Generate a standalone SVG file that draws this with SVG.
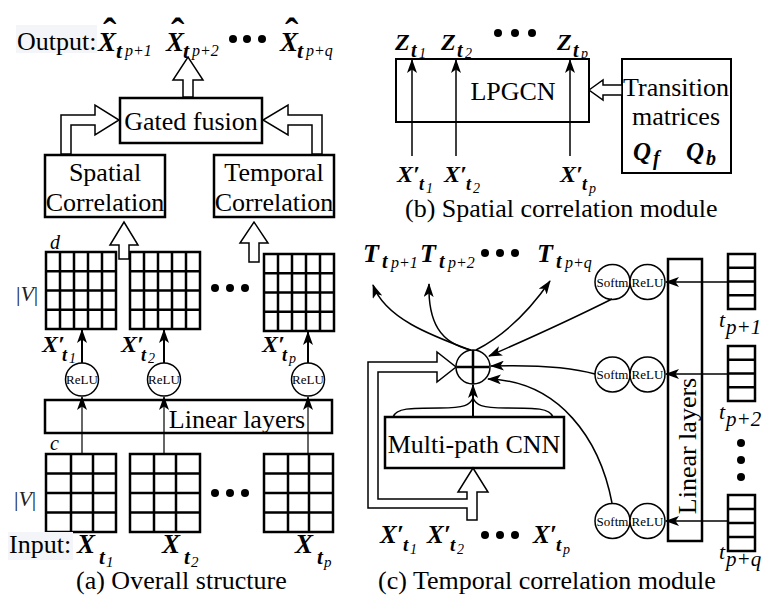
<svg xmlns="http://www.w3.org/2000/svg" width="776" height="612" viewBox="0 0 776 612" font-family="'Liberation Serif', 'Times New Roman', serif">
<style>
text{font-family:'Liberation Serif','Times New Roman',serif;fill:#000}
.t{font-size:26px}
.m{font-weight:bold;font-style:italic}
.s{font-weight:bold;font-style:italic}
.ss{font-style:italic;font-weight:normal}
.hat{font-weight:bold;font-style:normal;font-size:40px}
.sm{font-size:13px}
.it{font-style:italic;font-size:20px}
.box{fill:#fff;stroke:#000;stroke-width:2.5}
.grid{fill:none;stroke:#000;stroke-width:2.5}
.hol{fill:#fff;stroke:#000;stroke-width:1.5;stroke-linejoin:miter}
.ln{fill:none;stroke:#000;stroke-width:1.5}
.circ{fill:#fff;stroke:#000;stroke-width:1.5}
.dot{fill:#000}
.mid{text-anchor:middle}
</style>
<defs>
<marker id="ah" viewBox="0 0 14 10" refX="13" refY="5" markerWidth="14" markerHeight="10" markerUnits="userSpaceOnUse" orient="auto">
<path d="M0,0 L14,5 L0,10 L3.5,5 z" fill="#000"/>
</marker>
</defs>
<rect width="776" height="612" fill="#fff"/>

<!-- ===== (a) Overall structure ===== -->
<g id="a-output">
<rect x="16" y="25" width="81" height="28" fill="#f3f5f8"/>
<text class="t" x="17" y="50">Output:</text>
<text><tspan class="m" x="98" y="51" font-size="27">X</tspan><tspan class="hat" x="103" y="46">ˆ</tspan><tspan class="s" x="116" y="58" font-size="22">t</tspan><tspan class="ss" x="125" y="56" font-size="16">p+1</tspan></text>
<text><tspan class="m" x="166" y="51" font-size="27">X</tspan><tspan class="hat" x="171" y="46">ˆ</tspan><tspan class="s" x="183" y="58" font-size="22">t</tspan><tspan class="ss" x="192" y="56" font-size="16">p+2</tspan></text>
<circle class="dot" cx="233" cy="39" r="4"/><circle class="dot" cx="247" cy="39" r="4"/><circle class="dot" cx="262" cy="39" r="4"/>
<text><tspan class="m" x="280" y="51" font-size="27">X</tspan><tspan class="hat" x="285" y="46">ˆ</tspan><tspan class="s" x="297" y="58" font-size="22">t</tspan><tspan class="ss" x="306" y="56" font-size="16">p+q</tspan></text>
</g>

<g id="a-gated">
<rect class="box" x="120" y="98" width="142" height="45"/>
<text class="t mid" x="191" y="130">Gated fusion</text>
</g>
<g id="a-spatial">
<rect class="box" x="45" y="155" width="120" height="62"/>
<text class="t mid" x="105" y="181">Spatial</text>
<text class="t mid" x="105" y="211">Correlation</text>
</g>
<g id="a-temporal">
<rect class="box" x="214" y="155" width="120" height="62"/>
<text class="t mid" x="274" y="181">Temporal</text>
<text class="t mid" x="274" y="211">Correlation</text>
</g>

<g id="a-grids-top">
<text class="it" x="50" y="249">d</text>
<text x="16" y="301" style="font-size:22px;fill:#222">|<tspan font-style="italic">V</tspan>|</text>
<g class="grid">
<rect x="46" y="252" width="70" height="77"/>
<path d="M60 252V329M74 252V329M88 252V329M102 252V329M46 271.25H116M46 290.5H116M46 309.75H116"/>
<rect x="130" y="252" width="70" height="77"/>
<path d="M144 252V329M158 252V329M172 252V329M186 252V329M130 271.25H200M130 290.5H200M130 309.75H200"/>
<rect x="264" y="254" width="70" height="77"/>
<path d="M278 254V331M292 254V331M306 254V331M320 254V331M264 273.25H334M264 292.5H334M264 311.75H334"/>
</g>
<circle class="dot" cx="215" cy="288" r="4"/><circle class="dot" cx="230" cy="288" r="4"/><circle class="dot" cx="245" cy="288" r="4"/>
</g>

<g id="a-xprime">
<text><tspan class="m" x="42" y="352" font-size="24">X′</tspan><tspan class="s" x="62" y="361" font-size="18">t</tspan><tspan class="ss" x="69" y="363" font-size="14">1</tspan></text>
<text><tspan class="m" x="121" y="352" font-size="24">X′</tspan><tspan class="s" x="141" y="361" font-size="18">t</tspan><tspan class="ss" x="148" y="363" font-size="14">2</tspan></text>
<text><tspan class="m" x="262" y="352" font-size="24">X′</tspan><tspan class="s" x="282" y="361" font-size="18">t</tspan><tspan class="ss" x="289" y="363" font-size="14">p</tspan></text>
</g>

<g id="a-linear">
<rect class="box" x="45" y="400" width="287" height="33"/>
<text class="t mid" x="237" y="428">Linear layers</text>
</g>

<g id="a-relu">
<circle class="circ" cx="82" cy="379.5" r="16.5"/><text class="sm mid" x="82" y="384">ReLU</text>
<circle class="circ" cx="164" cy="379.5" r="16.5"/><text class="sm mid" x="164" y="384">ReLU</text>
<circle class="circ" cx="308" cy="379.5" r="16.5"/><text class="sm mid" x="308" y="384">ReLU</text>
</g>

<g id="a-grids-bottom">
<text class="it" x="50" y="450">c</text>
<text x="14" y="506" style="font-size:22px;fill:#222">|<tspan font-style="italic">V</tspan>|</text>
<g class="grid">
<rect x="46" y="454" width="70" height="78"/>
<path d="M71 454V532M93 454V532M46 473.5H116M46 493H116M46 512.5H116"/>
<rect x="130" y="454" width="70" height="78"/>
<path d="M154 454V532M176 454V532M130 473.5H200M130 493H200M130 512.5H200"/>
<rect x="264" y="454" width="69" height="78"/>
<path d="M288 454V532M309 454V532M264 473.5H333M264 493H333M264 512.5H333"/>
</g>
<circle class="dot" cx="215" cy="493" r="4"/><circle class="dot" cx="230" cy="493" r="4"/><circle class="dot" cx="245" cy="493" r="4"/>
</g>

<g id="a-input">
<rect x="8" y="532" width="65" height="28" fill="#f3f5f8"/>
<text class="t" x="9" y="553">Input:</text>
<text><tspan class="m" x="77" y="553" font-size="27">X</tspan><tspan class="s" x="99" y="564" font-size="21">t</tspan><tspan class="ss" x="106" y="567" font-size="15">1</tspan></text>
<text><tspan class="m" x="162" y="553" font-size="27">X</tspan><tspan class="s" x="184" y="564" font-size="21">t</tspan><tspan class="ss" x="191" y="567" font-size="15">2</tspan></text>
<text><tspan class="m" x="295" y="553" font-size="27">X</tspan><tspan class="s" x="317" y="564" font-size="21">t</tspan><tspan class="ss" x="324" y="567" font-size="15">p</tspan></text>
</g>
<text id="a-caption" class="t" x="76" y="589">(a) Overall structure</text>

<g id="a-connectors">
<polygon class="hol" points="183,97 183,80 173,80 188,57 203,80 193,80 193,97"/>
<polygon class="hol" points="61,154 61,115 95,115 95,105 119,120 95,135 95,125 71,125 71,154"/>
<polygon class="hol" points="322,154 322,115 288,115 288,105 263,120 288,135 288,125 312,125 312,154"/>
<polygon class="hol" points="119,259 119,245 110,245 124,222 138,245 129,245 129,259"/>
<polygon class="hol" points="249,262 249,243 240,243 254,222 268,243 259,243 259,262"/>
<g class="ln" style="stroke-width:1.2">
<path d="M82 454V397" marker-end="url(#ah)"/>
<path d="M164 454V397" marker-end="url(#ah)"/>
<path d="M308 454V397" marker-end="url(#ah)"/>
</g>
<g class="ln" style="stroke-width:2">
<path d="M82 363V330" marker-end="url(#ah)"/>
<path d="M164 363V330" marker-end="url(#ah)"/>
<path d="M308 363V332" marker-end="url(#ah)"/>
</g>
</g>

<!-- ===== (b) Spatial correlation module ===== -->
<g id="b-z">
<text><tspan class="m" x="395" y="50" font-size="24">Z</tspan><tspan class="s" x="411" y="57" font-size="20">t</tspan><tspan class="ss" x="419" y="58" font-size="14">1</tspan></text>
<text><tspan class="m" x="441" y="50" font-size="24">Z</tspan><tspan class="s" x="457" y="57" font-size="20">t</tspan><tspan class="ss" x="465" y="58" font-size="14">2</tspan></text>
<circle class="dot" cx="498" cy="33" r="4"/><circle class="dot" cx="515" cy="33" r="4"/><circle class="dot" cx="532" cy="33" r="4"/>
<text><tspan class="m" x="557" y="50" font-size="24">Z</tspan><tspan class="s" x="573" y="57" font-size="20">t</tspan><tspan class="ss" x="581" y="58" font-size="14">p</tspan></text>
</g>
<g id="b-lpgcn">
<rect class="box" x="396" y="59" width="193" height="63" style="stroke-width:2"/>
<text class="t mid" x="513" y="100">LPGCN</text>
</g>
<g id="b-transition">
<rect class="box" x="622" y="59" width="109" height="114" style="stroke-width:2"/>
<text class="t mid" x="676" y="96">Transition</text>
<text class="t mid" x="676" y="125">matrices</text>
<text><tspan class="m" x="633" y="160" font-size="25">Q</tspan><tspan class="s" x="653" y="165" font-size="20">f</tspan></text>
<text><tspan class="m" x="686" y="160" font-size="25">Q</tspan><tspan class="s" x="706" y="165" font-size="20">b</tspan></text>
</g>
<g id="b-xprime">
<text><tspan class="m" x="397" y="182" font-size="24">X′</tspan><tspan class="s" x="419" y="190" font-size="18">t</tspan><tspan class="ss" x="426" y="193" font-size="14">1</tspan></text>
<text><tspan class="m" x="444" y="182" font-size="24">X′</tspan><tspan class="s" x="466" y="190" font-size="18">t</tspan><tspan class="ss" x="473" y="193" font-size="14">2</tspan></text>
<text><tspan class="m" x="560" y="182" font-size="24">X′</tspan><tspan class="s" x="582" y="190" font-size="18">t</tspan><tspan class="ss" x="589" y="193" font-size="14">p</tspan></text>
</g>
<text id="b-caption" class="t" x="405" y="217">(b) Spatial correlation module</text>
<g id="b-connectors">
<g class="ln">
<path d="M412 156V60" marker-end="url(#ah)"/>
<path d="M456 156V60" marker-end="url(#ah)"/>
<path d="M570 156V60" marker-end="url(#ah)"/>
</g>
<polygon class="hol" points="589,90 603,80 603,85 622,85 622,95 603,95 603,100"/>
</g>

<!-- ===== (c) Temporal correlation module ===== -->
<g id="c-t">
<text><tspan class="m" x="363" y="262" font-size="26">T</tspan><tspan class="s" x="382" y="268" font-size="20">t</tspan><tspan class="ss" x="391" y="268" font-size="16">p+1</tspan></text>
<text><tspan class="m" x="420" y="262" font-size="26">T</tspan><tspan class="s" x="439" y="268" font-size="20">t</tspan><tspan class="ss" x="448" y="268" font-size="16">p+2</tspan></text>
<circle class="dot" cx="485" cy="253" r="4"/><circle class="dot" cx="500" cy="253" r="4"/><circle class="dot" cx="515" cy="253" r="4"/>
<text><tspan class="m" x="537" y="262" font-size="26">T</tspan><tspan class="s" x="556" y="268" font-size="20">t</tspan><tspan class="ss" x="565" y="268" font-size="16">p+q</tspan></text>
</g>

<g id="c-plus">
<circle class="circ" cx="473" cy="367" r="17"/>
<path d="M473 350V384M457 367H489" stroke="#000" stroke-width="2.5"/>
</g>

<g id="c-cnn">
<rect class="box" x="385" y="417" width="179" height="51"/>
<text class="t mid" x="474" y="453">Multi-path CNN</text>
</g>

<g id="c-act">
<circle class="circ" cx="612.5" cy="282" r="17.5"/><circle class="circ" cx="647.5" cy="282" r="17.5"/>
<text class="sm mid" x="612.5" y="286.5">Softm</text><text class="sm mid" x="647.5" y="286.5">ReLU</text>
<circle class="circ" cx="612.5" cy="374.5" r="17.5"/><circle class="circ" cx="647.5" cy="374.5" r="17.5"/>
<text class="sm mid" x="612.5" y="379">Softm</text><text class="sm mid" x="647.5" y="379">ReLU</text>
<circle class="circ" cx="612.5" cy="521" r="17.5"/><circle class="circ" cx="647.5" cy="521" r="17.5"/>
<text class="sm mid" x="612.5" y="525.5">Softm</text><text class="sm mid" x="647.5" y="525.5">ReLU</text>
</g>

<g id="c-linear">
<rect class="box" x="668" y="259" width="34" height="282"/>
<text class="t mid" transform="translate(696,446) rotate(-90)">Linear layers</text>
</g>

<g id="c-vectors">
<g class="grid">
<rect x="728" y="254" width="27" height="55"/><path d="M728 267.75H755M728 281.5H755M728 295.25H755"/>
<rect x="728" y="346" width="27" height="55"/><path d="M728 359.75H755M728 373.5H755M728 387.25H755"/>
<rect x="728" y="495" width="27" height="56"/><path d="M728 509H755M728 523H755M728 537H755"/>
</g>
<text class="it"><tspan x="719" y="327" font-size="22">t</tspan><tspan x="726" y="334" font-size="21">p+1</tspan></text>
<text class="it"><tspan x="719" y="419" font-size="22">t</tspan><tspan x="726" y="426" font-size="21">p+2</tspan></text>
<text class="it"><tspan x="719" y="559" font-size="22">t</tspan><tspan x="726" y="566" font-size="21">p+q</tspan></text>
<circle class="dot" cx="741" cy="443" r="4"/><circle class="dot" cx="741" cy="460" r="4"/><circle class="dot" cx="741" cy="477" r="4"/>
</g>

<g id="c-xprime">
<text><tspan class="m" x="380" y="543" font-size="25">X′</tspan><tspan class="s" x="403" y="551" font-size="19">t</tspan><tspan class="ss" x="410" y="554" font-size="14">1</tspan></text>
<text><tspan class="m" x="427" y="543" font-size="25">X′</tspan><tspan class="s" x="450" y="551" font-size="19">t</tspan><tspan class="ss" x="457" y="554" font-size="14">2</tspan></text>
<circle class="dot" cx="485" cy="535" r="4"/><circle class="dot" cx="500" cy="535" r="4"/><circle class="dot" cx="515" cy="535" r="4"/>
<text><tspan class="m" x="533" y="543" font-size="25">X′</tspan><tspan class="s" x="556" y="551" font-size="19">t</tspan><tspan class="ss" x="563" y="554" font-size="14">p</tspan></text>
</g>
<text id="c-caption" class="t" x="378" y="589">(c) Temporal correlation module</text>

<g id="c-connectors">
<g class="ln">
<path d="M470 350C430 335 385 318 373 285" marker-end="url(#ah)"/>
<path d="M471 350C440 343 428 322 429 284" marker-end="url(#ah)"/>
<path d="M476 350C505 335 530 310 550 281" marker-end="url(#ah)"/>
<path d="M612 299Q560 325 489 356" marker-end="url(#ah)"/>
<path d="M595 374Q560 364 491 366" marker-end="url(#ah)"/>
<path d="M612 503C600 440 560 381 488 379" marker-end="url(#ah)"/>
<path d="M728 282H666" marker-end="url(#ah)"/>
<path d="M728 374H666" marker-end="url(#ah)"/>
<path d="M728 521H666" marker-end="url(#ah)"/>
<path d="M393 417C396 408 410 408 440 408C465 408 470 405 473 398M553 417C550 408 536 408 506 408C481 408 476 405 473 398"/>
<path d="M473 417V385" marker-end="url(#ah)" style="stroke-width:2"/>
</g>
<polygon class="hol" points="467,520 467,508 368,508 368,362 437,362 437,352 456,367 437,382 437,372 378,372 378,499 467,499 467,492 458,492 473,468 488,492 477,492 477,520"/>
</g>
</svg>
